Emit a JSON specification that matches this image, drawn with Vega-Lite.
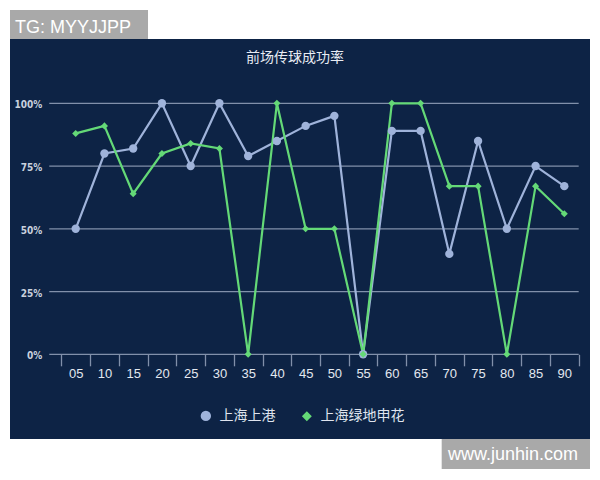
{
  "$schema": "https://vega.github.io/schema/vega-lite/v6.json",
  "width": 580,
  "height": 400,
  "autosize": {"type": "none"},
  "padding": {"left": 10, "top": 39, "right": 10, "bottom": 41},
  "background": "#ffffff",
  "view": {"fill": "#0d2345", "stroke": null},
  "title": {
    "text": "前场传球成功率",
    "font": "Noto Sans CJK SC",
    "fontSize": 14,
    "fontWeight": "normal",
    "color": "#e8ecf3",
    "anchor": "middle",
    "frame": "group",
    "offset": 0,
    "baseline": "middle",
    "dy": 62,
    "dx": -5
  },
  "config": {
    "font": "Liberation Sans"
  },
  "resolve": {"axis": {"x": "independent", "y": "independent"}},
  "data": {
    "values": [
      {"min": 5, "team": "上海上港", "pct": 50},
      {"min": 10, "team": "上海上港", "pct": 80},
      {"min": 15, "team": "上海上港", "pct": 82},
      {"min": 20, "team": "上海上港", "pct": 100},
      {"min": 25, "team": "上海上港", "pct": 75},
      {"min": 30, "team": "上海上港", "pct": 100},
      {"min": 35, "team": "上海上港", "pct": 79},
      {"min": 40, "team": "上海上港", "pct": 85},
      {"min": 45, "team": "上海上港", "pct": 91},
      {"min": 50, "team": "上海上港", "pct": 95},
      {"min": 55, "team": "上海上港", "pct": 0},
      {"min": 60, "team": "上海上港", "pct": 89},
      {"min": 65, "team": "上海上港", "pct": 89},
      {"min": 70, "team": "上海上港", "pct": 40},
      {"min": 75, "team": "上海上港", "pct": 85},
      {"min": 80, "team": "上海上港", "pct": 50},
      {"min": 85, "team": "上海上港", "pct": 75},
      {"min": 90, "team": "上海上港", "pct": 67},
      {"min": 5, "team": "上海绿地申花", "pct": 88},
      {"min": 10, "team": "上海绿地申花", "pct": 91},
      {"min": 15, "team": "上海绿地申花", "pct": 64},
      {"min": 20, "team": "上海绿地申花", "pct": 80},
      {"min": 25, "team": "上海绿地申花", "pct": 84},
      {"min": 30, "team": "上海绿地申花", "pct": 82},
      {"min": 35, "team": "上海绿地申花", "pct": 0},
      {"min": 40, "team": "上海绿地申花", "pct": 100},
      {"min": 45, "team": "上海绿地申花", "pct": 50},
      {"min": 50, "team": "上海绿地申花", "pct": 50},
      {"min": 55, "team": "上海绿地申花", "pct": 0},
      {"min": 60, "team": "上海绿地申花", "pct": 100},
      {"min": 65, "team": "上海绿地申花", "pct": 100},
      {"min": 70, "team": "上海绿地申花", "pct": 67},
      {"min": 75, "team": "上海绿地申花", "pct": 67},
      {"min": 80, "team": "上海绿地申花", "pct": 0},
      {"min": 85, "team": "上海绿地申花", "pct": 67},
      {"min": 90, "team": "上海绿地申花", "pct": 56}
    ]
  },
  "layer": [
    {
      "data": {"values": [{"pct": 0}, {"pct": 25}, {"pct": 50}, {"pct": 75}, {"pct": 100}]},
      "mark": {"type": "rule", "color": "#8190aa", "strokeWidth": 1.3},
      "encoding": {
        "x": {"datum": 0.4, "type": "quantitative", "scale": {"domain": [-6.43, 94.47], "nice": false, "zero": false}, "axis": null},
        "x2": {"datum": 92.5},
        "y": {"field": "pct", "type": "quantitative", "scale": {"domain": [-33.75, 125.62], "nice": false, "zero": false}, "axis": null}
      }
    },
    {
      "mark": {"type": "line", "strokeWidth": 2.2},
      "encoding": {
        "x": {
          "field": "min",
          "type": "quantitative",
          "scale": {"domain": [-6.43, 94.47], "nice": false, "zero": false},
          "axis": {
            "title": null,
            "orient": "bottom",
            "offset": -84.7,
            "values": [2.5, 5, 7.5, 10, 12.5, 15, 17.5, 20, 22.5, 25, 27.5, 30, 32.5, 35, 37.5, 40, 42.5, 45, 47.5, 50, 52.5, 55, 57.5, 60, 62.5, 65, 67.5, 70, 72.5, 75, 77.5, 80, 82.5, 85, 87.5, 90, 92.5],
            "labelExpr": "datum.value % 5 === 0 ? (datum.value < 10 ? '0' + datum.value : '' + datum.value) : ''",
            "domain": false,
            "grid": false,
            "ticks": true,
            "tickSize": 11.5,
            "tickWidth": 1.3,
            "tickColor": "#8190aa",
            "tickOpacity": {"condition": {"test": "datum.value % 5 === 0", "value": 0}, "value": 1},
            "labelPadding": 1.5,
            "labelFont": "Liberation Sans",
            "labelFontSize": 13,
            "labelColor": "#e3e8f0",
            "labelOverlap": false,
            "labelBound": false,
            "labelFlush": false
          }
        },
        "y": {
          "field": "pct",
          "type": "quantitative",
          "scale": {"domain": [-33.75, 125.62], "nice": false, "zero": false},
          "axis": {
            "title": null,
            "orient": "left",
            "offset": -39.3,
            "values": [0, 25, 50, 75, 100],
            "labelExpr": "datum.value + '%'",
            "domain": false,
            "ticks": false,
            "grid": false,
            "labelPadding": 7.6,
            "labelOffset": 1.5,
            "labelFont": "DejaVu Sans Condensed",
            "labelFontWeight": "bold",
            "labelFontSize": 10,
            "labelColor": "#c9d1de"
          }
        },
        "color": {
          "field": "team",
          "type": "nominal",
          "scale": {"domain": ["上海上港", "上海绿地申花"], "range": ["#9fb3da", "#64d977"]},
          "legend": {
            "title": null,
            "orient": "none",
            "legendX": 188.85,
            "legendY": 369.5,
            "direction": "horizontal",
            "padding": 0,
            "labelFont": "Noto Sans CJK SC",
            "labelFontSize": 14,
            "labelColor": "#dfe4ee",
            "labelOffset": 6.7,
            "columnPadding": 23,
            "symbolSize": 335,
            "symbolStrokeWidth": 2,
            "encode": {
              "symbols": {
                "update": {
                  "shape": {"signal": "datum.value === '上海上港' ? 'M-1,0H1M0.33,0A0.33,0.33,0,1,1,-0.33,0A0.33,0.33,0,1,1,0.33,0Z' : 'M-1,0H1M0,-0.4L0.4,0L0,0.4L-0.4,0Z'"},
                  "fill": {"signal": "datum.value === '上海上港' ? '#9fb3da' : '#64d977'"},
                  "stroke": {"signal": "datum.value === '上海上港' ? '#9fb3da' : '#64d977'"},
                  "strokeWidth": {"value": 2},
                  "opacity": {"value": 1}
                }
              }
            }
          }
        }
      }
    },
    {
      "mark": {"type": "point", "filled": true, "opacity": 1},
      "encoding": {
        "x": {"field": "min", "type": "quantitative", "scale": {"domain": [-6.43, 94.47], "nice": false, "zero": false}, "axis": null},
        "y": {"field": "pct", "type": "quantitative", "scale": {"domain": [-33.75, 125.62], "nice": false, "zero": false}, "axis": null},
        "color": {"field": "team", "type": "nominal", "legend": null},
        "shape": {
          "field": "team",
          "type": "nominal",
          "scale": {"domain": ["上海上港", "上海绿地申花"], "range": ["circle", "diamond"]},
          "legend": null
        },
        "size": {
          "field": "team",
          "type": "nominal",
          "scale": {"domain": ["上海上港", "上海绿地申花"], "range": [70, 50]},
          "legend": null
        }
      }
    },
    {
      "data": {"values": [{"label": "TG: MYYJJPP"}]},
      "mark": {"type": "rect", "color": "#a9a9a9"},
      "encoding": {
        "x": {"datum": -6.43, "type": "quantitative", "scale": {"domain": [-6.43, 94.47], "nice": false, "zero": false}, "axis": null},
        "x2": {"datum": 17.58},
        "y": {"datum": 137.17, "type": "quantitative", "scale": {"domain": [-33.75, 125.62], "nice": false, "zero": false}, "axis": null},
        "y2": {"datum": 125.62}
      }
    },
    {
      "data": {"values": [{"label": "TG: MYYJJPP"}]},
      "mark": {"type": "text", "align": "left", "baseline": "alphabetic", "font": "Liberation Sans", "fontSize": 18, "color": "#ffffff"},
      "encoding": {
        "x": {"datum": -5.56, "type": "quantitative", "scale": {"domain": [-6.43, 94.47], "nice": false, "zero": false}, "axis": null},
        "y": {"datum": 128.1, "type": "quantitative", "scale": {"domain": [-33.75, 125.62], "nice": false, "zero": false}, "axis": null},
        "text": {"field": "label"}
      }
    },
    {
      "data": {"values": [{"label": "www.junhin.com"}]},
      "mark": {"type": "rect", "color": "#a9a9a9"},
      "encoding": {
        "x": {"datum": 68.67, "type": "quantitative", "scale": {"domain": [-6.43, 94.47], "nice": false, "zero": false}, "axis": null},
        "x2": {"datum": 94.47},
        "y": {"datum": -33.75, "type": "quantitative", "scale": {"domain": [-33.75, 125.62], "nice": false, "zero": false}, "axis": null},
        "y2": {"datum": -45.7}
      }
    },
    {
      "data": {"values": [{"label": "www.junhin.com"}]},
      "mark": {"type": "text", "align": "left", "baseline": "alphabetic", "font": "Liberation Sans", "fontSize": 18, "color": "#ffffff"},
      "encoding": {
        "x": {"datum": 69.77, "type": "quantitative", "scale": {"domain": [-6.43, 94.47], "nice": false, "zero": false}, "axis": null},
        "y": {"datum": -42.1, "type": "quantitative", "scale": {"domain": [-33.75, 125.62], "nice": false, "zero": false}, "axis": null},
        "text": {"field": "label"}
      }
    }
  ]
}
